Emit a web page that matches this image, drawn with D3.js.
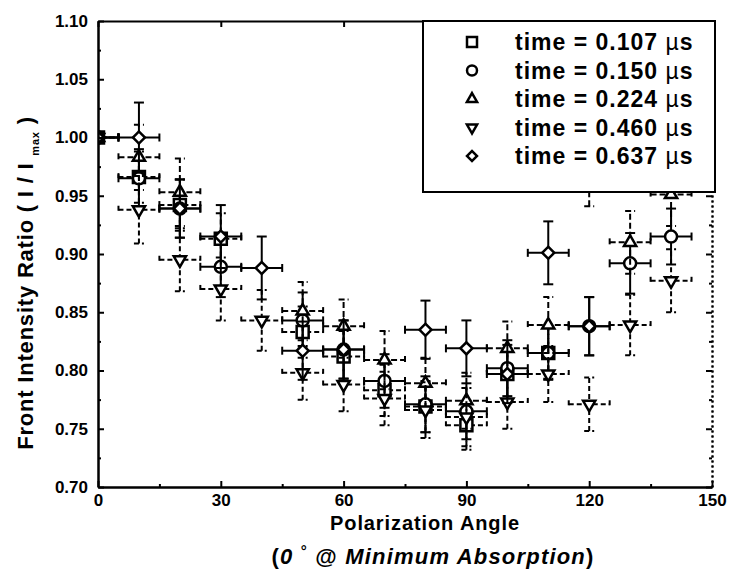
<!DOCTYPE html>
<html>
<head>
<meta charset="utf-8">
<script src="https://cdn.jsdelivr.net/npm/d3@7/dist/d3.min.js"></script>
<style>
  html, body { margin: 0; padding: 0; background: #fff; }
  svg { display: block; font-family: "Liberation Sans", Arial, Helvetica, sans-serif; }
</style>
</head>
<body>
<svg id="chart" width="729" height="579"></svg>
<script>
// ---------------- DATA ----------------
const angles = [0, 10, 20, 30, 40, 50, 60, 70, 80, 90, 100, 110, 120, 130, 140];
const xErr = 5; // horizontal error (degrees)

const times = ["0.107", "0.150", "0.224", "0.460", "0.637"];

const ratio107 = [1.000, 0.966, 0.942, 0.913, null, 0.833, 0.812, 0.783, 0.769, 0.753, 0.797, 0.815, null, null, null];
const err107   = [0.000, 0.022, 0.022, 0.022, null, 0.022, 0.022, 0.022, 0.022, 0.021, 0.022, 0.022, null, null, null];

const ratio150 = [1.000, 0.965, 0.939, 0.889, null, 0.843, 0.818, 0.791, 0.771, 0.765, 0.802, 0.815, 0.838, 0.892, 0.915];
const err150   = [0.000, 0.025, 0.025, 0.026, null, 0.024, 0.025, 0.023, 0.024, 0.024, 0.024, 0.023, 0.025, 0.026, 0.024];

const ratio224 = [1.000, 0.983, 0.953, null, null, 0.851, 0.838, 0.809, 0.789, 0.774, 0.819, 0.839, 0.965, 0.910, 0.951];
const err224   = [0.000, 0.028, 0.029, null, null, 0.025, 0.023, 0.025, 0.022, 0.024, 0.023, 0.024, 0.024, 0.027, 0.027];

const ratio460 = [1.000, 0.938, 0.895, 0.870, 0.843, 0.798, 0.788, 0.776, 0.766, 0.760, 0.773, 0.797, 0.771, 0.839, 0.877];
const err460   = [0.000, 0.029, 0.027, 0.027, 0.026, 0.023, 0.023, 0.023, 0.024, 0.025, 0.023, 0.024, 0.023, 0.026, 0.027];

const ratio637 = [1.000, 1.000, 0.939, 0.915, 0.888, 0.817, 0.818, null, 0.835, 0.819, 0.797, 0.901, 0.838, null, null];
const err637   = [0.000, 0.030, 0.025, 0.027, 0.027, 0.025, 0.025, null, 0.025, 0.024, 0.025, 0.027, 0.025, null, null];

const xTicks = [0, 30, 60, 90, 120, 150];
const xMinorTicks = [15, 45, 75, 105, 135];
const yTicks = [0.70, 0.75, 0.80, 0.85, 0.90, 0.95, 1.00, 1.05, 1.10];
const yMinorTicks = [0.725, 0.775, 0.825, 0.875, 0.925, 0.975, 1.025, 1.075];

// ---------------- SETUP ----------------
const series = [
  { time: times[0], vals: ratio107, errs: err107, shape: "square",  dash: "5,3" },
  { time: times[1], vals: ratio150, errs: err150, shape: "circle",  dash: null },
  { time: times[2], vals: ratio224, errs: err224, shape: "triUp",   dash: "6,3" },
  { time: times[3], vals: ratio460, errs: err460, shape: "triDown", dash: "5,3" },
  { time: times[4], vals: ratio637, errs: err637, shape: "diamond", dash: null }
];

const svg = d3.select("#chart");
const L = 98, R = 712, T = 21, B = 487;
const x = d3.scaleLinear().domain([0, 150]).range([L, R]);
const y = d3.scaleLinear().domain([0.70, 1.10]).range([B, T]);

svg.append("defs").append("clipPath").attr("id", "plotclip")
  .append("rect").attr("x", L).attr("y", T).attr("width", R - L).attr("height", B - T);

function symbolPath(shape, size) {
  switch (shape) {
    case "square":  return d3.symbol(d3.symbolSquare, size * size)();
    case "circle":  return d3.symbol(d3.symbolCircle, Math.PI * (size / 2) * (size / 2))();
    case "triUp":   return d3.symbol(d3.symbolTriangle, size * size * 0.45)();
    case "triDown": return d3.symbol(d3.symbolTriangle, size * size * 0.45)();
    case "diamond": return d3.symbol(d3.symbolSquare, size * size * 0.5)();
  }
}
function symbolRot(shape) {
  if (shape === "triDown") return 180;
  if (shape === "diamond") return 45;
  return 0;
}

const plot = svg.append("g").attr("clip-path", "url(#plotclip)");

series.forEach(s => {
  const pts = angles.map((a, i) => ({ a, v: s.vals[i], e: s.errs[i] })).filter(d => d.v !== null);
  const g = plot.append("g");
  const eb = g.append("g")
    .attr("stroke", "#000").attr("stroke-width", 2).attr("fill", "none")
    .attr("stroke-dasharray", s.dash);
  pts.forEach(d => {
    const cx = x(d.a), cy = y(d.v);
    eb.append("line").attr("x1", x(d.a - xErr)).attr("x2", x(d.a + xErr)).attr("y1", cy).attr("y2", cy);
    eb.append("line").attr("x1", x(d.a - xErr)).attr("x2", x(d.a - xErr)).attr("y1", cy - 4).attr("y2", cy + 4).attr("stroke-dasharray", null);
    eb.append("line").attr("x1", x(d.a + xErr)).attr("x2", x(d.a + xErr)).attr("y1", cy - 4).attr("y2", cy + 4).attr("stroke-dasharray", null);
    if (d.e > 0) {
      eb.append("line").attr("x1", cx).attr("x2", cx).attr("y1", y(d.v - d.e)).attr("y2", y(d.v + d.e));
      eb.append("line").attr("x1", cx - 5).attr("x2", cx + 5).attr("y1", y(d.v - d.e)).attr("y2", y(d.v - d.e)).attr("stroke-dasharray", null);
      eb.append("line").attr("x1", cx - 5).attr("x2", cx + 5).attr("y1", y(d.v + d.e)).attr("y2", y(d.v + d.e)).attr("stroke-dasharray", null);
    }
  });
  g.selectAll("path.mk").data(pts).join("path")
    .attr("class", "mk")
    .attr("d", symbolPath(s.shape, 12))
    .attr("transform", d => `translate(${x(d.a)},${y(d.v)}) rotate(${symbolRot(s.shape)})`)
    .attr("fill", "#fff").attr("stroke", "#000").attr("stroke-width", 2.5);
});

// ---------------- AXES ----------------
const fontTick = "bold 17px 'Liberation Sans', Arial, sans-serif";
function styleAxis(g, dotted) {
  g.select(".domain").attr("stroke", "#000").attr("stroke-width", 2).attr("stroke-dasharray", dotted ? "2,3" : null);
  g.selectAll(".tick line").attr("stroke", "#000").attr("stroke-width", 2);
  g.selectAll(".tick text").style("font", fontTick).attr("fill", "#000");
}

const xAxis = svg.append("g").attr("transform", `translate(0,${B})`)
  .call(d3.axisBottom(x).tickValues(xTicks).tickSize(-6).tickSizeOuter(0).tickPadding(7).tickFormat(d3.format("d")));
styleAxis(xAxis);
const xMinor = svg.append("g").attr("transform", `translate(0,${B})`)
  .call(d3.axisBottom(x).tickValues(xMinorTicks).tickSize(-3).tickSizeOuter(0).tickFormat(""));
styleAxis(xMinor);

const xTop = svg.append("g").attr("transform", `translate(0,${T})`)
  .call(d3.axisTop(x).tickValues(xTicks).tickSize(-6).tickSizeOuter(0).tickFormat(""));
styleAxis(xTop);

const yAxis = svg.append("g").attr("transform", `translate(${L},0)`)
  .call(d3.axisLeft(y).tickValues(yTicks).tickSize(-6).tickSizeOuter(0).tickPadding(10).tickFormat(d3.format(".2f")));
styleAxis(yAxis);
const yMinor = svg.append("g").attr("transform", `translate(${L},0)`)
  .call(d3.axisLeft(y).tickValues(yMinorTicks).tickSize(-3).tickSizeOuter(0).tickFormat(""));
styleAxis(yMinor);

const yRight = svg.append("g").attr("transform", `translate(${R},0)`)
  .call(d3.axisRight(y).tickValues(yTicks).tickSize(-6).tickSizeOuter(0).tickFormat(""));
styleAxis(yRight, true);
const yRightMinor = svg.append("g").attr("transform", `translate(${R},0)`)
  .call(d3.axisRight(y).tickValues(yMinorTicks).tickSize(-3).tickSizeOuter(0).tickFormat(""));
styleAxis(yRightMinor, true);

// ---------------- TITLES ----------------
svg.append("text")
  .attr("x", 425).attr("y", 530)
  .attr("text-anchor", "middle")
  .style("font", "bold 20px 'Liberation Sans', Arial, sans-serif")
  .style("letter-spacing", "0.9px")
  .text("Polarization Angle");

const sub = svg.append("text")
  .attr("x", 433).attr("y", 564)
  .attr("text-anchor", "middle")
  .style("font", "bold 22px 'Liberation Sans', Arial, sans-serif")
  .style("letter-spacing", "1.2px");
sub.append("tspan").text("(");
sub.append("tspan").style("font-style", "italic").text("0 ");
sub.append("tspan").attr("dy", -8).style("font-size", "15px").text("°");
sub.append("tspan").attr("dy", 8).text(" @ ");
sub.append("tspan").style("font-style", "italic").text("Minimum Absorption");
sub.append("tspan").text(")");

const yt = svg.append("text")
  .attr("transform", "translate(33,283) rotate(-90)")
  .attr("text-anchor", "middle")
  .style("font", "bold 22px 'Liberation Sans', Arial, sans-serif")
  .style("letter-spacing", "0.8px");
yt.append("tspan").text("Front Intensity Ratio ( I / I ");
yt.append("tspan").attr("dy", 6).style("font-size", "11px").text("max");
yt.append("tspan").attr("dy", -6).text(" )");

// ---------------- LEGEND ----------------
const lg = svg.append("g");
lg.append("rect").attr("x", 423).attr("y", T).attr("width", 292).attr("height", 171)
  .attr("fill", "#fff").attr("stroke", "#000").attr("stroke-width", 2);
series.forEach((s, i) => {
  const cy = 42 + i * 28.5;
  lg.append("path")
    .attr("d", symbolPath(s.shape, 10))
    .attr("transform", `translate(472,${cy}) rotate(${symbolRot(s.shape)})`)
    .attr("fill", "#fff").attr("stroke", "#000").attr("stroke-width", 2.5);
  const t = lg.append("text").attr("x", 515).attr("y", cy + 8)
    .style("font", "bold 23px 'Liberation Sans', Arial, sans-serif")
    .style("letter-spacing", "1px");
  t.append("tspan").text(`time = ${s.time} `);
  t.append("tspan").style("font-weight", "normal").text("µ");
  t.append("tspan").text("s");
});
</script>
</body>
</html>
